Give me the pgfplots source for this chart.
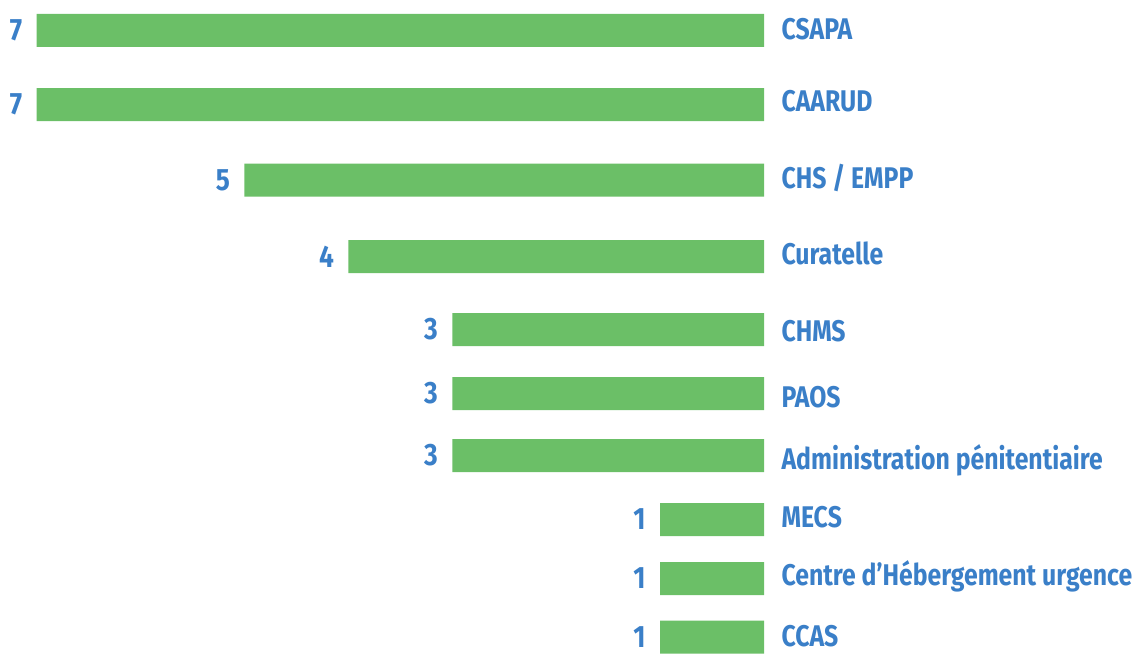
\documentclass[border=0pt]{standalone}
\usepackage{pgfplots}
\pgfplotsset{compat=1.18}
\usepackage{fontspec}
\setmainfont{Fira Sans}
\newfontfamily\labfont[FakeStretch=0.83]{Fira Sans}
\newfontfamily\numfont[FakeStretch=0.85]{Fira Sans}
\definecolor{barg}{HTML}{6BBF67}
\definecolor{txtb}{HTML}{3A7FC8}
\begin{document}
\begin{tikzpicture}
\begin{axis}[
  scale only axis, width=1141bp, height=651bp,
  hide axis, clip=false,
  x dir=reverse, xmin=-3.628, xmax=7.353,
  y dir=reverse, ymin=0, ymax=651,
  /pgf/number format/assume math mode=true,
]
\addplot[xbar, bar width=33, bar shift=0pt, fill=barg, draw=none,
  nodes near coords,
  nodes near coords style={anchor=east, xshift=-11bp, text=txtb,
    font=\numfont\bfseries\fontsize{31}{31}\selectfont}]
  coordinates {(7,30.5) (7,104.5) (5,180) (4,256.5) (3,329.5) (3,393.5) (3,455.5) (1,519.5) (1,578.5) (1,637)};
\addplot[draw=none, mark=none, nodes near coords, point meta=explicit symbolic,
  nodes near coords style={anchor=base west, xshift=14bp, text=txtb,
    font=\labfont\bfseries\fontsize{30}{30}\selectfont}]
  coordinates {(0,39) [CSAPA] (0,111) [CAARUD] (0,188) [CHS / EMPP] (0,264) [Curatelle]
  (0,341) [CHMS] (0,407) [PAOS] (0,469) [Administration pénitentiaire]
  (0,527) [MECS] (0,585) [Centre d’Hébergement urgence] (0,646) [CCAS]};
\draw[draw=none] (rel axis cs:0,0) rectangle (rel axis cs:1,1);
\end{axis}
\end{tikzpicture}
\end{document}
